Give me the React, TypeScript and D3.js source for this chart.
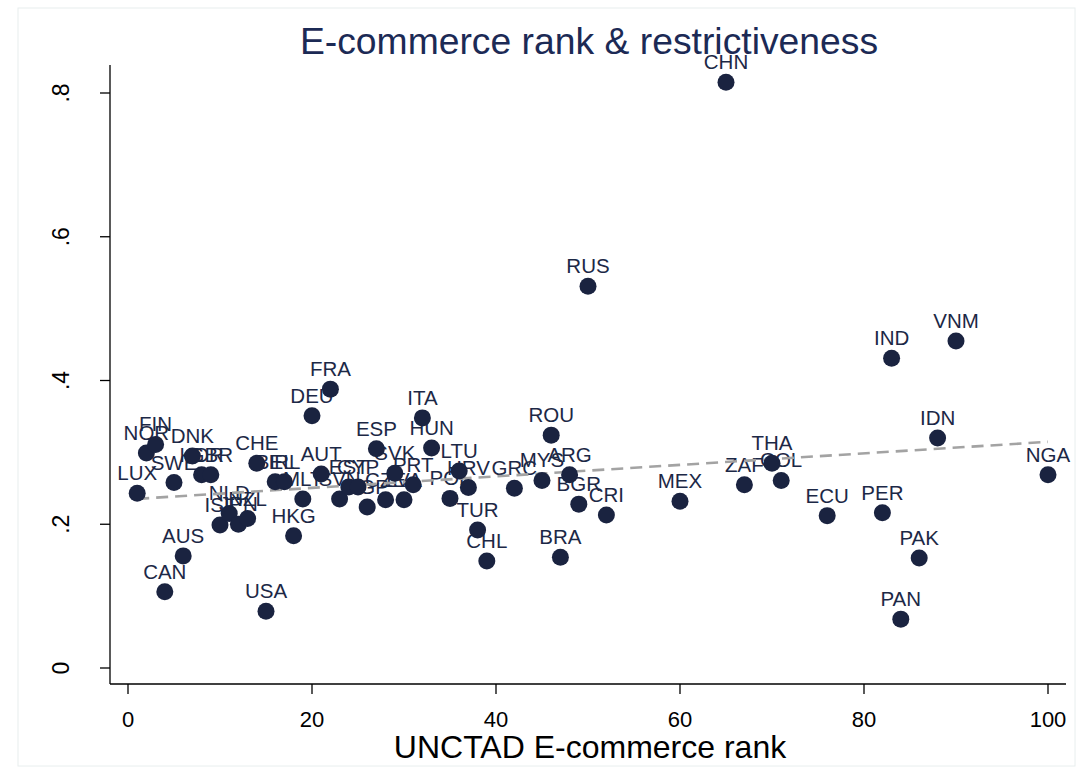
import React from "react";
import * as d3 from "d3";

// Country codes, UNCTAD B2C e-commerce rank and digital trade restrictiveness score
const countries = [
  "LUX", "NOR", "FIN", "CAN", "SWE", "AUS", "DNK", "KOR", "GBR", "ISL",
  "NLD", "JPN", "NZL", "CHE", "USA", "BEL", "IRL", "HKG", "MLT", "DEU",
  "AUT", "FRA", "SVN", "EST", "CYP", "SGP", "ESP", "CZE", "SVK", "LVA",
  "PRT", "ITA", "HUN", "POL", "LTU", "HRV", "TUR", "CHL", "GRC", "MYS",
  "ROU", "BRA", "ARG", "BGR", "RUS", "CRI", "MEX", "CHN", "ZAF", "THA",
  "COL", "ECU", "PER", "IND", "PAN", "PAK", "IDN", "VNM", "NGA",
];
const ecommerceRank = [
  1, 2, 3, 4, 5, 6, 7, 8, 9, 10,
  11, 12, 13, 14, 15, 16, 17, 18, 19, 20,
  21, 22, 23, 24, 25, 26, 27, 28, 29, 30,
  31, 32, 33, 35, 36, 37, 38, 39, 42, 45,
  46, 47, 48, 49, 50, 52, 60, 65, 67, 70,
  71, 76, 82, 83, 84, 86, 88, 90, 100,
];
const restrictiveness = [
  0.243, 0.299, 0.311, 0.106, 0.258, 0.156, 0.295, 0.269, 0.269, 0.199,
  0.215, 0.2, 0.208, 0.285, 0.079, 0.259, 0.259, 0.184, 0.235, 0.351,
  0.27, 0.388, 0.235, 0.252, 0.252, 0.224, 0.305, 0.234, 0.271, 0.234,
  0.255, 0.348, 0.306, 0.236, 0.274, 0.251, 0.192, 0.149, 0.25, 0.261,
  0.324, 0.154, 0.269, 0.228, 0.531, 0.213, 0.232, 0.815, 0.255, 0.285,
  0.261, 0.212, 0.216, 0.431, 0.068, 0.153, 0.32, 0.455, 0.269,
];
const xTicks = [0, 20, 40, 60, 80, 100];
const yTicks = [0, 0.2, 0.4, 0.6, 0.8];
const yTickLabels = ["0", ".2", ".4", ".6", ".8"];

const W = 1086;
const H = 771;
const plot = { left: 110, right: 1066, top: 65, bottom: 684 };
const FONT = "'Liberation Sans', Arial, Helvetica, sans-serif";
const NAVY = "#1a2340";

export default function App() {
  const x = d3.scaleLinear().domain([0, 100]).range([128, 1048]);
  const y = d3.scaleLinear().domain([0, 0.8]).range([668, 93]);

  const points = countries.map((c, i) => ({
    code: c,
    rank: ecommerceRank[i],
    score: restrictiveness[i],
  }));

  // Ordinary least squares fit of restrictiveness on rank
  const mx = d3.mean(points, (p) => p.rank) as number;
  const my = d3.mean(points, (p) => p.score) as number;
  const sxy = d3.sum(points, (p) => (p.rank - mx) * (p.score - my));
  const sxx = d3.sum(points, (p) => (p.rank - mx) ** 2);
  const slope = sxy / sxx;
  const intercept = my - slope * mx;
  const [xMin, xMax] = d3.extent(points, (p) => p.rank) as [number, number];
  const fitLine = d3
    .line<number>()
    .x((v) => x(v))
    .y((v) => y(intercept + slope * v))([xMin, xMax]);

  return (
    <svg
      width={W}
      height={H}
      style={{ position: "absolute", left: 0, top: 0, display: "block", background: "#fff" }}
      fontFamily={FONT}
    >
      <rect x={18} y={8} width={1057} height={758} fill="#fff" stroke="#e8eeee" strokeWidth={1} />

      <text x={589} y={54} textAnchor="middle" fontSize={37.3} fill="#1c2a55">
        E-commerce rank &amp; restrictiveness
      </text>

      {/* axes */}
      <line x1={plot.left} x2={plot.left} y1={plot.top} y2={plot.bottom} stroke="#000" strokeWidth={1.3} />
      <line x1={plot.left} x2={plot.right} y1={plot.bottom} y2={plot.bottom} stroke="#000" strokeWidth={1.3} />
      {yTicks.map((t, i) => (
        <g key={"y" + t}>
          <line x1={plot.left - 10} x2={plot.left} y1={y(t)} y2={y(t)} stroke="#000" strokeWidth={1.3} />
          <text
            transform={`translate(69,${y(t)}) rotate(-90)`}
            textAnchor="middle"
            fontSize={23}
            fill="#000"
          >
            {yTickLabels[i]}
          </text>
        </g>
      ))}
      {xTicks.map((t) => (
        <g key={"x" + t}>
          <line x1={x(t)} x2={x(t)} y1={plot.bottom} y2={plot.bottom + 10} stroke="#000" strokeWidth={1.3} />
          <text x={x(t)} y={727} textAnchor="middle" fontSize={22} fill="#000">
            {t}
          </text>
        </g>
      ))}
      <text x={590} y={758} textAnchor="middle" fontSize={32} fill="#000">
        UNCTAD E-commerce rank
      </text>

      {/* marker labels */}
      {points.map((p) => (
        <text
          key={"l" + p.code}
          x={x(p.rank)}
          y={y(p.score) - 13}
          textAnchor="middle"
          fontSize={20.5}
          fill="#1c2846"
        >
          {p.code}
        </text>
      ))}

      {/* fitted values */}
      <path d={fitLine ?? ""} fill="none" stroke="#a3a3a3" strokeWidth={2.6} strokeDasharray="12 7" />

      {/* markers */}
      {points.map((p) => (
        <circle key={"m" + p.code} cx={x(p.rank)} cy={y(p.score)} r={8.5} fill={NAVY} />
      ))}
    </svg>
  );
}
